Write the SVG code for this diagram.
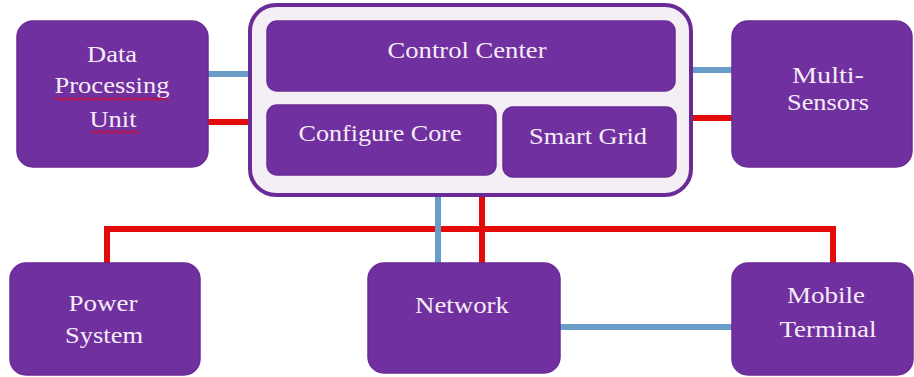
<svg xmlns="http://www.w3.org/2000/svg" width="914" height="377" viewBox="0 0 914 377">
<style>
.box{fill:#7030a0;stroke:#6a2b96;stroke-width:1.5}
.lbl{fill:#f6ecf6;text-anchor:middle}
.red{stroke:#e30a0a;stroke-width:6;fill:none}
.blue{stroke:#6a9cc8;stroke-width:6;fill:none}
.squig{stroke:#d0102a;stroke-width:1.3;fill:none}
</style>
<rect width="914" height="377" fill="#ffffff"/>
<g id="connectors">
<line class="blue" x1="206" y1="74" x2="252" y2="74"/>
<line class="red" x1="206" y1="122" x2="252" y2="122"/>
<line class="blue" x1="689" y1="70" x2="734" y2="70"/>
<line class="red" x1="689" y1="118" x2="734" y2="118"/>
<polyline class="red" points="107,265 107,229 833,229 833,265"/>
<line class="blue" x1="438" y1="195" x2="438" y2="265"/>
<line class="red" x1="482" y1="195" x2="482" y2="265"/>
<line class="blue" x1="558" y1="327" x2="734" y2="327"/>
</g>
<g font-family="Liberation Serif" font-size="23">
<g id="data-processing-unit">
<rect class="box" x="17" y="21" width="191" height="146" rx="16"/>
<text class="lbl" x="112" y="62" textLength="50" lengthAdjust="spacingAndGlyphs">Data</text>
<text class="lbl" x="112" y="93" textLength="115" lengthAdjust="spacingAndGlyphs">Processing</text>
<text class="lbl" x="113" y="127" textLength="47" lengthAdjust="spacingAndGlyphs">Unit</text>
<path class="squig" d="M55 99 q2 -2 4 0 t4 0 t4 0 t4 0 t4 0 t4 0 t4 0 t4 0 t4 0 t4 0 t4 0 t4 0 t4 0 t4 0 t4 0 t4 0 t4 0 t4 0 t4 0 t4 0 t4 0 t4 0 t4 0 t4 0 t4 0 t4 0 t4 0 t4 0"/>
<path class="squig" d="M91 132 q2 -2 4 0 t4 0 t4 0 t4 0 t4 0 t4 0 t4 0 t4 0 t4 0 t4 0 t4 0 t4 0"/>
</g>
<g id="control-container">
<rect x="250" y="5" width="441" height="190" rx="26" fill="#f3eff5" stroke="#6a2b96" stroke-width="4"/>
</g>
<g id="control-center">
<rect class="box" x="267" y="21" width="408" height="70" rx="10"/>
<text class="lbl" x="467" y="58" textLength="159" lengthAdjust="spacingAndGlyphs">Control Center</text>
</g>
<g id="configure-core">
<rect class="box" x="267" y="105" width="229" height="70" rx="10"/>
<text class="lbl" x="380" y="141" textLength="163" lengthAdjust="spacingAndGlyphs">Configure Core</text>
</g>
<g id="smart-grid">
<rect class="box" x="503" y="107" width="173" height="70" rx="10"/>
<text class="lbl" x="588" y="144" textLength="118" lengthAdjust="spacingAndGlyphs">Smart Grid</text>
</g>
<g id="multi-sensors">
<rect class="box" x="732" y="21" width="180" height="146" rx="16"/>
<text class="lbl" x="828" y="83" textLength="72" lengthAdjust="spacingAndGlyphs">Multi-</text>
<text class="lbl" x="828" y="110" textLength="82" lengthAdjust="spacingAndGlyphs">Sensors</text>
</g>
<g id="power-system">
<rect class="box" x="10" y="263" width="190" height="112" rx="16"/>
<text class="lbl" x="103" y="311" textLength="69" lengthAdjust="spacingAndGlyphs">Power</text>
<text class="lbl" x="104" y="343" textLength="78" lengthAdjust="spacingAndGlyphs">System</text>
</g>
<g id="network">
<rect class="box" x="368" y="263" width="192" height="110" rx="16"/>
<text class="lbl" x="462" y="313" textLength="94" lengthAdjust="spacingAndGlyphs">Network</text>
</g>
<g id="mobile-terminal">
<rect class="box" x="732" y="263" width="181" height="112" rx="16"/>
<text class="lbl" x="826" y="303" textLength="78" lengthAdjust="spacingAndGlyphs">Mobile</text>
<text class="lbl" x="828" y="337" textLength="97" lengthAdjust="spacingAndGlyphs">Terminal</text>
</g>
</g>
</svg>
